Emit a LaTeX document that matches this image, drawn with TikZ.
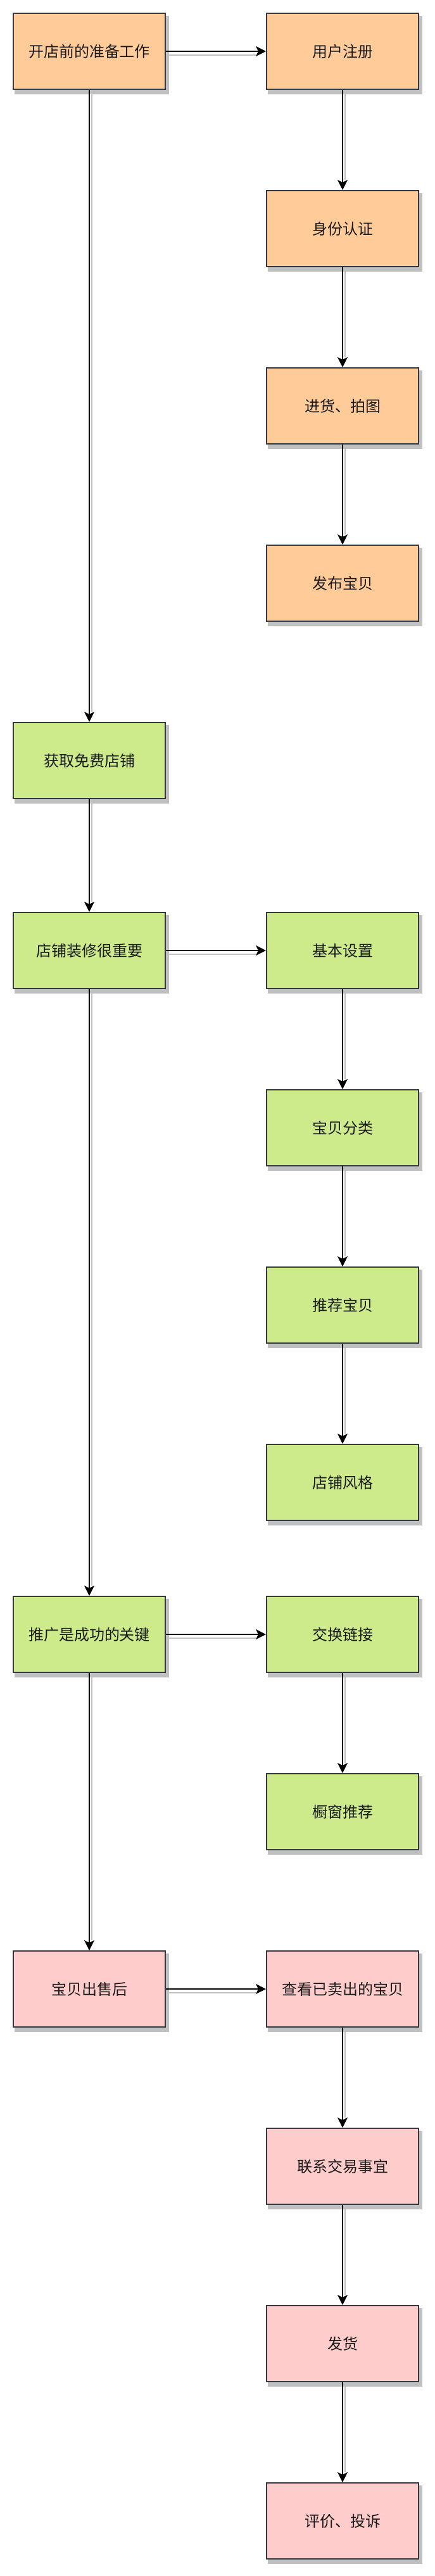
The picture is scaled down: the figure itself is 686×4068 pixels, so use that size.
\documentclass[tikz,border=0pt]{standalone}
\usepackage{fontspec}
\setmainfont{Noto Sans CJK SC}
\usetikzlibrary{arrows.meta}
\definecolor{orangefill}{HTML}{FFCC99}
\definecolor{greenfill}{HTML}{CDEB8B}
\definecolor{pinkfill}{HTML}{FFCCCC}
\definecolor{strokec}{HTML}{36393D}
\definecolor{shadowc}{HTML}{C0C0C0}
\definecolor{textc}{HTML}{1A1A1A}
\pgfdeclarelayer{background}
\pgfsetlayers{background,main}
\begin{document}
\begin{tikzpicture}[x=1pt,y=1pt,
 box/.style={draw=strokec, line width=2pt, minimum width=240pt, minimum height=120pt, inner sep=0pt,
   font=\fontsize{24}{28}\selectfont, text=textc},
 ob/.style={box, fill=orangefill},
 gb/.style={box, fill=greenfill},
 pb/.style={box, fill=pinkfill},
 bshadow/.style={fill=shadowc, draw=shadowc, line width=2pt},
 edge/.style={draw=black, line width=2pt, -{Stealth[length=16pt,width=16pt,inset=4pt]}},
 eshadow/.style={draw=shadowc, line width=2pt, shorten >=16pt}]
\useasboundingbox (0,0) rectangle (686,-4068);
% left column
\node[ob] (a1) at (141,-81) {开店前的准备工作};
\node[gb] (a2) at (141,-1201) {获取免费店铺};
\node[gb] (a3) at (141,-1501) {店铺装修很重要};
\node[gb] (a4) at (141,-2581) {推广是成功的关键};
\node[pb] (a5) at (141,-3141) {宝贝出售后};
% right column
\node[ob] (b1) at (541,-81) {用户注册};
\node[ob] (b2) at (541,-361) {身份认证};
\node[ob] (b3) at (541,-641) {进货、拍图};
\node[ob] (b4) at (541,-921) {发布宝贝};
\node[gb] (c1) at (541,-1501) {基本设置};
\node[gb] (c2) at (541,-1781) {宝贝分类};
\node[gb] (c3) at (541,-2061) {推荐宝贝};
\node[gb] (c4) at (541,-2341) {店铺风格};
\node[gb] (d1) at (541,-2581) {交换链接};
\node[gb] (d2) at (541,-2861) {橱窗推荐};
\node[pb] (e1) at (541,-3141) {查看已卖出的宝贝};
\node[pb] (e2) at (541,-3421) {联系交易事宜};
\node[pb] (e3) at (541,-3701) {发货};
\node[pb] (e4) at (541,-3981) {评价、投诉};
% shadows
\begin{pgfonlayer}{background}
\foreach \s/\t in {a1/b1,a3/c1,a4/d1,a5/e1}
  \draw[eshadow] ([xshift=4pt,yshift=-6pt]\s.east) -- ([xshift=0pt,yshift=-6pt]\t.west);
\foreach \s/\t in {a1/a2,a2/a3,a3/a4,a4/a5,b1/b2,b2/b3,b3/b4,c1/c2,c2/c3,c3/c4,d1/d2,e1/e2,e2/e3,e3/e4}
  \draw[eshadow] ([xshift=4pt,yshift=-6pt]\s.south) -- ([xshift=4pt]\t.north);
\foreach \n in {a1,a2,a3,a4,a5,b1,b2,b3,b4,c1,c2,c3,c4,d1,d2,e1,e2,e3,e4}
  \path[bshadow] ([xshift=4pt,yshift=-6pt]\n.south west) rectangle ([xshift=4pt,yshift=-6pt]\n.north east);
\end{pgfonlayer}
% edges
\foreach \s/\t in {a1/b1,a3/c1,a4/d1,a5/e1}
  \draw[edge] (\s.east) -- (\t.west);
\foreach \s/\t in {a1/a2,a2/a3,a3/a4,a4/a5,b1/b2,b2/b3,b3/b4,c1/c2,c2/c3,c3/c4,d1/d2,e1/e2,e2/e3,e3/e4}
  \draw[edge] (\s.south) -- (\t.north);
\end{tikzpicture}
\end{document}
